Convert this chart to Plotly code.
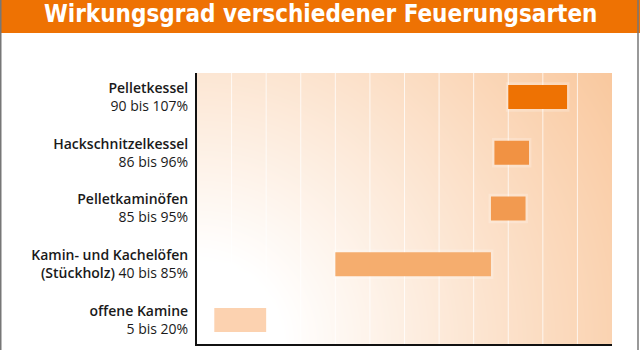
import numpy as np
import plotly.graph_objects as go

# ---- data ----
categories = ["Pelletkessel", "Hackschnitzelkessel", "Pelletkaminöfen",
              "Kamin- und Kachelöfen", "offene Kamine"]
name_line1 = ["Pelletkessel", "Hackschnitzelkessel", "Pelletkaminöfen",
              "Kamin- und Kachelöfen", "offene Kamine"]
name_line2_prefix = ["", "", "", "(Stückholz) ", ""]
range_low = [90, 86, 85, 40, 5]
range_high = [107, 96, 95, 85, 20]
bar_colors = ["#EE7203", "#F19243", "#F29A50", "#F5AD6E", "#FCD2B0"]
grid_values = [10, 20, 30, 40, 50, 60, 70, 80, 90, 100, 110]
title_text = "Wirkungsgrad verschiedener Feuerungsarten"

W, H = 640, 350
ML, MR, MT, MB = 197, 28, 73, 6
PW, PH = W - ML - MR, H - MT - MB
XMAX = 120
Y0, Y1 = -0.43, 4.43

pos = list(range(len(categories)))
SB = '<span style="font-weight:600">'
labels = []
for n1, p2, lo, hi in zip(name_line1, name_line2_prefix, range_low, range_high):
    second = (SB + p2.strip() + "</span> " if p2 else "") + f"{lo} bis {hi}%"
    labels.append(SB + n1 + "</span><br>" + second)

fig = go.Figure()

# decorative radial background gradient (white at bottom-left -> peach)
gx = np.linspace(0, XMAX, 49)
gy = np.linspace(Y0, Y1, 25)
X, Y = np.meshgrid(gx, gy)
px_x = X / XMAX * PW
px_y = PH - (Y - Y0) / (Y1 - Y0) * PH
r = np.sqrt(px_x ** 2 + px_y ** 2)
Z = np.clip((r - 86) / 410, 0, 1)
fig.add_trace(go.Heatmap(x=gx, y=gy, z=Z, zmin=0, zmax=1, zsmooth="best",
                         colorscale=[[0, "#FFFFFF"], [1, "#F9C89E"]],
                         showscale=False, hoverinfo="skip", xaxis="x", yaxis="y"))

# vertical grid lines (base subplot, below bars)
gxs, gys = [], []
for g in grid_values:
    gxs += [g, g, None]
    gys += [Y0, Y1, None]
fig.add_trace(go.Scatter(x=gxs, y=gys, mode="lines",
                         line=dict(color="rgba(255,255,255,0.75)", width=1),
                         hoverinfo="skip", showlegend=False, xaxis="x", yaxis="y"))

# soft halo + range bars on overlay subplot
widths = [h - l for l, h in zip(range_low, range_high)]
fig.add_trace(go.Bar(y=pos, x=[w + 1.4 for w in widths], base=[l - 0.7 for l in range_low],
                     orientation="h", width=0.53,
                     marker=dict(color="rgba(255,255,255,0.22)", line=dict(width=0)),
                     hoverinfo="skip", showlegend=False, xaxis="x2", yaxis="y2"))
fig.add_trace(go.Bar(y=pos, x=widths, base=range_low, orientation="h", width=0.43,
                     marker=dict(color=bar_colors, line=dict(width=0)),
                     showlegend=False, xaxis="x2", yaxis="y2"))

fig.update_layout(
    width=W, height=H,
    margin=dict(l=ML, r=MR, t=MT, b=MB, pad=0),
    paper_bgcolor="white", plot_bgcolor="white",
    barmode="overlay",
    font=dict(family="Open Sans, Noto Sans, sans-serif", size=14, color="#1a1a1a"),
    xaxis=dict(range=[0, XMAX], showgrid=False, zeroline=False, showticklabels=False,
               showline=True, linecolor="#111", linewidth=2, ticks=""),
    yaxis=dict(range=[Y1, Y0], tickmode="array", tickvals=pos, ticktext=labels,
               showgrid=False, zeroline=False, showline=True, linecolor="#111",
               linewidth=2, ticks="", ticklabelstandoff=4,
               tickfont=dict(size=14, color="#1a1a1a")),
    xaxis2=dict(range=[0, XMAX], overlaying="x", visible=False),
    yaxis2=dict(range=[Y1, Y0], overlaying="y", visible=False),
    shapes=[
        dict(type="rect", xref="paper", yref="paper",
             x0=-ML / PW, x1=(W - ML) / PW, y0=1 + (MT - 33) / PH, y1=1 + MT / PH,
             fillcolor="#EE7203", line=dict(width=0), layer="above"),
        dict(type="line", xref="paper", yref="paper",
             x0=-ML / PW + 0.75 / PW, x1=-ML / PW + 0.75 / PW, y0=-MB / PH, y1=1 + MT / PH,
             line=dict(color="#777", width=1.5)),
        dict(type="line", xref="paper", yref="paper",
             x0=(638 - ML) / PW, x1=(638 - ML) / PW, y0=-MB / PH, y1=1 + MT / PH,
             line=dict(color="#777", width=1.5)),
    ],
    annotations=[
        dict(text="<b>" + title_text + "</b>", xref="paper", yref="paper",
             x=(320 - ML) / PW, y=1 + (MT - 14) / PH, xanchor="center", yanchor="middle",
             showarrow=False,
             font=dict(family="DejaVu Sans Condensed, Liberation Sans Narrow, Noto Sans",
                       size=24, color="white")),
    ],
)

fig.write_html("out.html")
